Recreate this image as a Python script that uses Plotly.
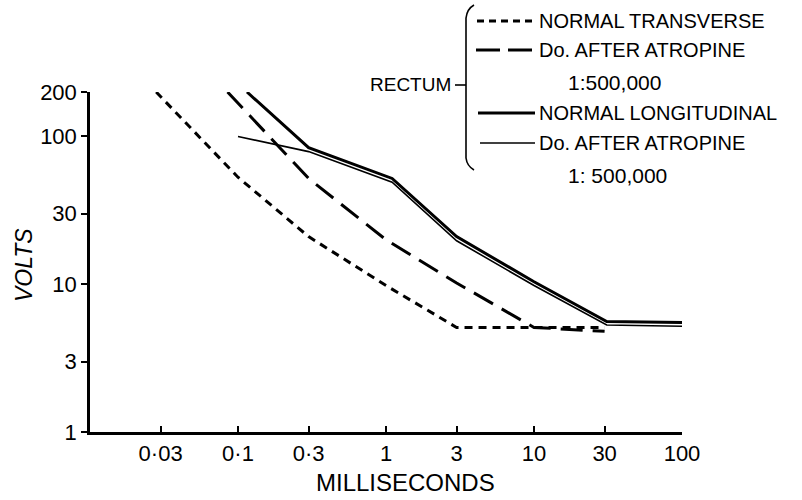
import plotly.graph_objects as go
import math

# ---------------- data ----------------
# Rectum, normal transverse (short dashes)
nt_x = [0.028, 0.1, 0.3, 1, 3, 30]
nt_y = [200, 53, 21, 9.8, 5.1, 5.1]
# Transverse, after atropine 1:500,000 (long dashes)
at_x = [0.085, 0.3, 1, 3, 10, 30]
at_y = [200, 52, 20, 10.2, 5.1, 4.8]
# Normal longitudinal (thick solid)
nl_x = [0.115, 0.3, 1.1, 3, 10, 31, 100]
nl_y = [200, 84, 52, 21, 10.4, 5.6, 5.5]
# Longitudinal, after atropine 1:500,000 (thin solid)
al_x = [0.1, 0.3, 1.1, 3, 10, 31, 100]
al_y = [100, 79, 49, 19.7, 9.8, 5.3, 5.2]

x_ticks = [0.03, 0.1, 0.3, 1, 3, 10, 30, 100]
x_tick_labels = ["0·03", "0·1", "0·3", "1", "3", "10", "30", "100"]
y_ticks = [1, 3, 10, 30, 100, 200]
y_tick_labels = ["1", "3", "10", "30", "100", "200"]

legend_labels = ["NORMAL TRANSVERSE", "Do. AFTER ATROPINE", "NORMAL LONGITUDINAL", "Do. AFTER ATROPINE"]
conc_labels = ["1:500,000", "1: 500,000"]
group_label = "RECTUM"

# ---------------- layout geometry ----------------
W, H = 802, 500
L, R, T, B = 90, 120, 92, 68
PW, PH = W - L - R, H - T - B


def px(x):
    return (x - L) / PW


def py(y):
    return (H - B - y) / PH


FONT = "Liberation Sans, Arial, sans-serif"

fig = go.Figure()
fig.add_trace(go.Scatter(x=nt_x, y=nt_y, mode="lines",
                         line=dict(color="black", width=3, dash="8px,6px"), showlegend=False))
fig.add_trace(go.Scatter(x=at_x, y=at_y, mode="lines",
                         line=dict(color="black", width=3, dash="22px,10px"), showlegend=False))
fig.add_trace(go.Scatter(x=nl_x, y=nl_y, mode="lines",
                         line=dict(color="black", width=3), showlegend=False))
fig.add_trace(go.Scatter(x=al_x, y=al_y, mode="lines",
                         line=dict(color="black", width=1.6), showlegend=False))

shapes = []
# legend sample lines
samples = [
    (477, 535, 21, 3, "7px,5px"),
    (476, 535, 50, 3, "24px,8px"),
    (478, 535, 113, 3, "solid"),
    (480, 535, 143, 1.6, "solid"),
]
for x0, x1, yy, w, d in samples:
    shapes.append(dict(type="line", xref="paper", yref="paper",
                       x0=px(x0), x1=px(x1), y0=py(yy), y1=py(yy),
                       line=dict(color="black", width=w, dash=d)))

# brace
pts = [(474, 5), (467, 9), (466, 18), (466, 158), (467, 166), (474, 170)]
path = "M {:.5f},{:.5f} Q {:.5f},{:.5f} {:.5f},{:.5f} L {:.5f},{:.5f} Q {:.5f},{:.5f} {:.5f},{:.5f}".format(
    px(pts[0][0]), py(pts[0][1]), px(pts[1][0]), py(pts[1][1]), px(pts[2][0]), py(pts[2][1]),
    px(pts[3][0]), py(pts[3][1]), px(pts[4][0]), py(pts[4][1]), px(pts[5][0]), py(pts[5][1]))
shapes.append(dict(type="path", xref="paper", yref="paper", path=path,
                   line=dict(color="black", width=1.6)))
shapes.append(dict(type="line", xref="paper", yref="paper",
                   x0=px(455), x1=px(466), y0=py(85), y1=py(85),
                   line=dict(color="black", width=1.6)))

annotations = []
leg_text = [
    (legend_labels[0], 537, 21, 20),
    (legend_labels[1], 537, 50, 20),
    (conc_labels[0], 566, 82, 21),
    (legend_labels[2], 537, 113, 20),
    (legend_labels[3], 537, 143, 20),
    (conc_labels[1], 566, 175, 21),
]
for t, xx, yy, fs in leg_text:
    annotations.append(dict(text=t, xref="paper", yref="paper", x=px(xx), y=py(yy),
                            xanchor="left", yanchor="middle", showarrow=False,
                            font=dict(family=FONT, size=fs, color="black")))
annotations.append(dict(text=group_label, xref="paper", yref="paper", x=px(453), y=py(84),
                        xanchor="right", yanchor="middle", showarrow=False,
                        font=dict(family=FONT, size=19, color="black")))
annotations.append(dict(text="MILLISECONDS", xref="paper", yref="paper", x=px(405), y=py(483),
                        xanchor="center", yanchor="middle", showarrow=False,
                        font=dict(family=FONT, size=24, color="black")))
annotations.append(dict(text="<i>VOLTS</i>", xref="paper", yref="paper", x=px(24), y=py(265),
                        xanchor="center", yanchor="middle", showarrow=False, textangle=-90,
                        font=dict(family=FONT, size=23, color="black")))

fig.update_layout(
    width=W, height=H,
    margin=dict(l=L, r=R, t=T, b=B, pad=0),
    paper_bgcolor="white", plot_bgcolor="white",
    shapes=shapes, annotations=annotations,
    font=dict(family=FONT, color="black"),
    xaxis=dict(type="log", range=[-2, 2], tickvals=x_ticks, ticktext=x_tick_labels,
               ticks="inside", ticklen=6, tickwidth=1.5, tickcolor="black",
               showline=True, linecolor="black", linewidth=2.5, showgrid=False, zeroline=False,
               tickfont=dict(family=FONT, size=22, color="black")),
    yaxis=dict(type="log", range=[0, math.log10(200)], tickvals=y_ticks, ticktext=y_tick_labels,
               ticks="outside", ticklen=6, tickwidth=1.5, tickcolor="black",
               showline=True, linecolor="black", linewidth=2.5, showgrid=False, zeroline=False,
               tickfont=dict(family=FONT, size=22, color="black")),
)

fig.write_html("out.html")
